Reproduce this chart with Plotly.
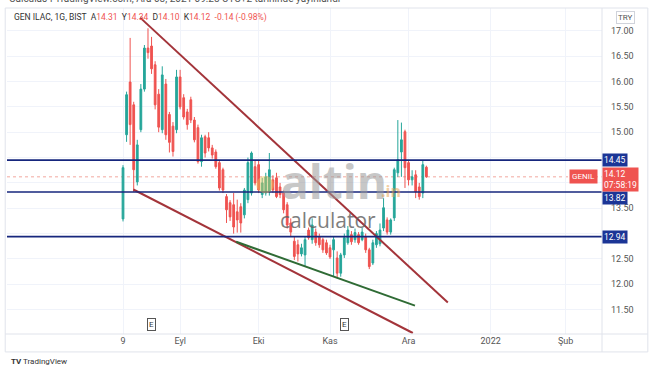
import numpy as np
import pandas as pd
import plotly.graph_objects as go

# ---------------- data ----------------
holidays = ["2021-08-30", "2021-10-29"]
dates = [d.strftime("%Y-%m-%d") for d in pd.bdate_range("2021-08-09", "2021-12-08")
         if d.strftime("%Y-%m-%d") not in holidays]

opens = [13.29, 14.95, 15.99, 15.54, 14.02, 15.05, 15.85, 16.66, 16.70, 16.33,
         15.75, 15.05, 15.95, 15.35, 15.12, 15.05, 16.09, 15.68, 15.40, 15.64,
         15.24, 15.09, 14.42, 14.91, 14.89, 14.69, 14.61, 14.40, 14.26, 13.73,
         13.61, 13.57, 13.43, 13.53, 13.37, 13.67, 13.80, 14.32, 14.36, 13.77,
         13.80, 13.82, 14.06, 14.10, 13.92, 13.80, 13.57, 13.21, 12.85, 12.78,
         12.60, 12.58, 13.07, 12.88, 13.03, 12.94, 12.88, 12.82, 12.72, 12.68,
         12.52, 12.22, 12.58, 12.82, 12.98, 12.88, 12.98, 12.88, 12.94, 12.68,
         12.42, 12.78, 12.80, 13.11, 13.27, 13.03, 13.31, 14.20, 14.61, 15.01,
         14.40, 14.06, 14.16, 13.92, 13.80, 14.31]
highs = [14.35, 15.80, 16.86, 15.60, 14.85, 15.95, 16.72, 17.05, 16.88, 16.40,
         15.85, 16.30, 16.05, 15.40, 15.20, 16.23, 16.23, 15.75, 15.46, 15.70,
         15.30, 15.15, 14.95, 14.95, 15.00, 14.75, 14.66, 14.45, 14.30, 13.78,
         13.66, 13.80, 13.67, 13.60, 13.90, 14.50, 14.62, 14.45, 14.45, 14.10,
         14.20, 14.59, 14.15, 14.20, 14.00, 13.85, 13.62, 13.30, 12.95, 12.88,
         12.80, 12.95, 13.12, 13.30, 13.10, 13.00, 12.92, 12.88, 12.78, 12.95,
         12.65, 12.62, 13.00, 13.15, 13.05, 13.10, 13.03, 13.12, 13.00, 12.72,
         12.88, 13.05, 13.20, 13.70, 13.32, 13.30, 14.30, 15.24, 15.19, 15.05,
         14.45, 14.25, 14.25, 14.00, 14.45, 14.34]
lows = [13.24, 14.81, 14.75, 13.82, 13.95, 15.00, 15.80, 16.45, 16.15, 15.45,
        15.00, 14.98, 14.85, 14.60, 14.52, 14.98, 15.45, 15.25, 15.05, 15.18,
        14.80, 14.38, 14.32, 14.50, 14.62, 14.48, 14.28, 13.85, 13.80, 13.21,
        13.25, 13.00, 13.02, 13.02, 13.30, 13.60, 13.75, 13.95, 13.80, 13.70,
        13.75, 13.75, 13.80, 13.70, 13.70, 13.40, 13.10, 12.95, 12.48, 12.45,
        12.55, 12.35, 12.88, 12.80, 12.76, 12.72, 12.62, 12.58, 12.50, 12.15,
        12.12, 12.15, 12.52, 12.78, 12.78, 12.82, 12.78, 12.85, 12.62, 12.30,
        12.38, 12.72, 12.75, 13.05, 12.98, 12.98, 13.25, 14.12, 14.12, 13.90,
        13.95, 13.95, 13.70, 13.67, 13.70, 14.10]
closes = [14.30, 15.74, 15.15, 14.26, 14.75, 15.85, 16.66, 16.57, 16.25, 15.54,
          15.10, 16.13, 14.95, 14.80, 14.62, 16.09, 15.50, 15.30, 15.15, 15.24,
          14.85, 14.42, 14.89, 14.59, 14.69, 14.55, 14.32, 13.90, 13.86, 13.47,
          13.33, 13.13, 13.27, 13.21, 13.86, 14.40, 14.59, 14.00, 13.86, 14.00,
          14.12, 14.26, 13.86, 13.73, 13.77, 13.47, 13.17, 13.03, 12.55, 12.60,
          12.72, 12.88, 12.92, 13.17, 12.82, 12.78, 12.68, 12.62, 12.54, 12.88,
          12.22, 12.58, 12.92, 13.07, 12.84, 13.02, 12.82, 13.03, 12.68, 12.35,
          12.82, 13.00, 13.07, 13.51, 13.03, 13.27, 14.26, 14.46, 14.85, 14.30,
          14.06, 14.12, 13.82, 13.73, 14.36, 14.12]

# horizontal levels drawn on the chart
levels = [14.45, 13.82, 12.94]
# trend lines: (bar position, price) end points
upper_trend = [(4.8, 17.26), (91.0, 11.64)]
lower_trend = [(2.9, 13.87), (81.2, 11.04)]
green_trend = [(31.7, 12.84), (81.8, 11.58)]
# earnings markers (dates)
earnings_dates = ["2021-08-19", "2021-11-05"]

tick_dates = ["2021-08-09", "2021-09-01", "2021-10-01", "2021-11-01",
              "2021-12-01", "2022-01-03", "2022-02-01"]
tick_text = ["9", "Eyl", "Eki", "Kas", "Ara", "2022", "Şub"]
y_ticks = [11.5, 12.0, 12.5, 13.0, 13.5, 14.0, 14.5, 15.0, 15.5, 16.0, 16.5, 17.0]
# tick labels hidden behind the price-axis labels in the original
y_hidden = [13.0, 14.0, 14.5]

# ---------------- helpers ----------------
def bar_pos(d):
    return int(np.busday_count("2021-08-09", d, holidays=holidays))

x = [bar_pos(d) for d in dates]
tick_pos = [bar_pos(d) for d in tick_dates]

GREEN = "#26a69a"
RED = "#ef5350"
NAVY = "#16267d"
NAVY_BOX = "#1b3596"
TREND_RED = "#a3343a"
TREND_GREEN = "#2f6b35"
FONT = "Roboto"

fig = go.Figure()

fig.add_trace(go.Candlestick(
    x=x, open=opens, high=highs, low=lows, close=closes,
    increasing=dict(line=dict(color=GREEN, width=1), fillcolor=GREEN),
    decreasing=dict(line=dict(color=RED, width=1), fillcolor=RED),
    whiskerwidth=0, hoverinfo="skip", showlegend=False))

for pts, col in [(upper_trend, TREND_RED), (lower_trend, TREND_RED), (green_trend, TREND_GREEN)]:
    fig.add_trace(go.Scatter(x=[p[0] for p in pts], y=[p[1] for p in pts], mode="lines",
                             line=dict(color=col, width=2), hoverinfo="skip", showlegend=False))

shapes = []
for lv in levels:
    shapes.append(dict(type="line", xref="paper", yref="y", x0=0, x1=1, y0=lv, y1=lv,
                       line=dict(color=NAVY, width=1.6), layer="above"))
# last price dotted line
shapes.append(dict(type="line", xref="paper", yref="y", x0=0, x1=1, y0=closes[-1], y1=closes[-1],
                   line=dict(color="#f2a89f", width=1, dash="dot"), layer="below"))
# frame & separators
shapes.append(dict(type="rect", xref="paper", yref="paper", x0=-0.003, x1=1.077, y0=-0.055, y1=1.0,
                   line=dict(color="#e0e3eb", width=1)))
shapes.append(dict(type="line", xref="paper", yref="paper", x0=-0.003, x1=1.077, y0=0, y1=0,
                   line=dict(color="#e0e3eb", width=1)))
shapes.append(dict(type="line", xref="paper", yref="paper", x0=1, x1=1, y0=-0.055, y1=1.0,
                   line=dict(color="#e0e3eb", width=1)))

annotations = []
# level labels on price axis
shifts = {14.45: 0, 13.82: -6, 12.94: 0}
for lv in levels:
    annotations.append(dict(xref="paper", yref="y", x=1, y=lv, xanchor="left", yanchor="middle",
                            yshift=shifts[lv], text=f"{lv:.2f}", showarrow=False,
                            font=dict(color="white", size=8.5, family=FONT),
                            bgcolor=NAVY_BOX, borderpad=1))
# last price label
annotations.append(dict(xref="paper", yref="y", x=1, y=closes[-1], xanchor="left", yanchor="middle",
                        yshift=-3, text=f"{closes[-1]:.2f}<br>07:58:19", showarrow=False, align="left",
                        font=dict(color="white", size=8.5, family=FONT), bgcolor=RED, borderpad=1))
annotations.append(dict(xref="paper", yref="y", x=0.994, y=closes[-1], xanchor="right", yanchor="middle",
                        text="GENIL", showarrow=False, font=dict(color="white", size=8, family=FONT),
                        bgcolor=RED, borderpad=2))
# earnings markers
for d in earnings_dates:
    annotations.append(dict(xref="x", yref="paper", x=bar_pos(d), y=0.028, yanchor="middle",
                            text="E", showarrow=False,
                            font=dict(color="#333", size=8, family=FONT), bordercolor="#555",
                            borderwidth=1, borderpad=1, bgcolor="white"))
# header
annotations.append(dict(xref="paper", yref="paper", x=0.0, y=1.03, xanchor="left", yanchor="middle",
                        text="Calculas4 TradingView.com, Ara 08, 2021 09:28 UTC+2 tarihinde yayınlandı",
                        showarrow=False, font=dict(color="#555", size=10, family=FONT)))
hdr = ("GEN ILAC, 1G, BIST  A<span style='color:#ef5350'>14.31</span>  "
       "Y<span style='color:#ef5350'>14.34</span>  D<span style='color:#ef5350'>14.10</span>  "
       "K<span style='color:#ef5350'>14.12</span>  <span style='color:#ef5350'>-0.14 (-0.98%)</span>")
annotations.append(dict(xref="paper", yref="paper", x=0.008, y=0.972, xanchor="left", yanchor="middle",
                        text=hdr, showarrow=False, font=dict(color="#333", size=8.5, family=FONT)))
annotations.append(dict(xref="paper", yref="paper", x=1.039, y=0.972, xanchor="center", yanchor="middle",
                        text="TRY", showarrow=False, font=dict(color="#555", size=8, family=FONT),
                        bordercolor="#d0d3db", borderwidth=1, borderpad=1))
# watermark
annotations.append(dict(xref="paper", yref="paper", x=0.434, y=0.472, text="●", showarrow=False,
                        font=dict(color="#f1c95a", size=40), opacity=0.45))
annotations.append(dict(xref="paper", yref="paper", x=0.55, y=0.468, text="<b>altin</b>", showarrow=False,
                        font=dict(color="#9a9a9a", size=46, family="Open Sans"), opacity=0.55))
annotations.append(dict(xref="paper", yref="paper", x=0.645, y=0.44, text="<b>.in</b>", showarrow=False,
                        font=dict(color="#e8a04a", size=16, family="Open Sans"), opacity=0.5))
annotations.append(dict(xref="paper", yref="paper", x=0.54, y=0.35, text="calculator", showarrow=False,
                        font=dict(color="#5f5f5f", size=21, family="Open Sans"), opacity=0.8))
# TradingView logo
annotations.append(dict(xref="paper", yref="paper", x=0.003, y=-0.085, xanchor="left", yanchor="middle",
                        text="<b>TV</b> TradingView", showarrow=False,
                        font=dict(color="#333", size=8, family=FONT)))

fig.update_layout(
    width=654, height=366,
    margin=dict(l=7, r=52, t=8, b=32),
    paper_bgcolor="white", plot_bgcolor="white",
    shapes=shapes, annotations=annotations,
    xaxis=dict(range=[-32.5, 134.2], tickvals=tick_pos, ticktext=tick_text,
               showgrid=True, gridcolor="#f0f3fa", zeroline=False, showline=False,
               tickfont=dict(size=9, color="#555", family=FONT), ticks="",
               rangeslider=dict(visible=False), fixedrange=True),
    yaxis=dict(range=[11.02, 17.45], side="right", tickvals=y_ticks,
               ticktext=["" if v in y_hidden else f"{v:.2f}" for v in y_ticks],
               showgrid=True, gridcolor="#f0f3fa",
               zeroline=False, showline=False, ticks="", ticklabelstandoff=8,
               tickfont=dict(size=9, color="#555", family=FONT), fixedrange=True),
    showlegend=False,
)

fig.write_html("out.html", config={"displayModeBar": False},
               post_script="document.body.style.margin='0';document.body.style.overflow='hidden';")
